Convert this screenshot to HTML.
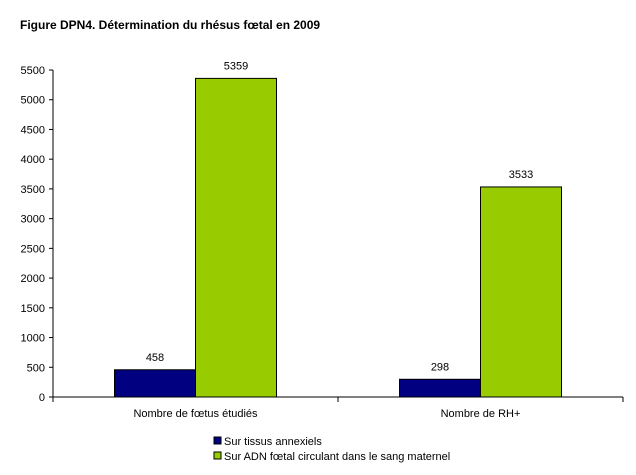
<!DOCTYPE html>
<html><head><meta charset="utf-8"><style>
body{margin:0;background:#fff;font-family:"Liberation Sans",Arial,sans-serif}
text{font-family:"Liberation Sans",Arial,sans-serif}
</style></head><body>
<svg width="636" height="470" xmlns="http://www.w3.org/2000/svg">
<text x="20" y="29" font-size="12" font-weight="bold">Figure DPN4. Détermination du rhésus fœtal en 2009</text>
<g id="axes"></g><g id="bars"></g>
<g>
<rect x="214" y="437" width="7" height="7" fill="#000080" stroke="#000"/>
<text x="224" y="445" font-size="11">Sur tissus annexiels</text>
<rect x="214" y="452" width="7" height="7" fill="#99cc00" stroke="#000"/>
<text x="224" y="460" font-size="11">Sur ADN fœtal circulant dans le sang maternel</text>
</g>
</svg>
<script>
const categories=["Nombre de fœtus étudiés","Nombre de RH+"];
const seriesTissus=[458,298];
const seriesADN=[5359,3533];
const yTicks=[0,500,1000,1500,2000,2500,3000,3500,4000,4500,5000,5500];
const NS="http://www.w3.org/2000/svg";
const x0=53,x1=623,y0=397,yTop=70,yMax=5500;
const y=v=>y0-(v/yMax)*(y0-yTop);
const catW=(x1-x0)/categories.length;
const bw=81;
function mk(t,a,p){const e=document.createElementNS(NS,t);for(const k in a)e.setAttribute(k,a[k]);p.appendChild(e);return e;}
const ax=document.getElementById('axes'),bg=document.getElementById('bars');
const yl=mk('line',{x1:x0,y1:yTop,x2:x0,y2:y0,stroke:'#000'},ax);


const xl=mk('line',{x1:x0,y1:y0,x2:x1,y2:y0,stroke:'#000'},ax);


yTicks.forEach(v=>{
 mk('line',{x1:x0-4,y1:y(v),x2:x0,y2:y(v),stroke:'#000'},ax);
 const t=mk('text',{x:x0-8,y:y(v)+4,'font-size':11,'text-anchor':'end'},ax);t.textContent=v;
 
 
});
for(let i=0;i<=categories.length;i++)mk('line',{x1:x0+i*catW,y1:y0,x2:x0+i*catW,y2:y0+5,stroke:'#000'},ax);
categories.forEach((c,i)=>{
 const cx=x0+catW*(i+0.5);
 const t=mk('text',{x:cx,y:y0+20,'font-size':11,'text-anchor':'middle'},ax);t.textContent=c;
 
 
 [[seriesTissus[i],'#000080',cx-bw,'bar-tissus'],[seriesADN[i],'#99cc00',cx,'bar-adn']].forEach(([v,col,bx,n])=>{
  const r=mk('rect',{x:bx,y:y(v),width:bw,height:y0-y(v),fill:col,stroke:'#000','stroke-width':1},bg);
  
  
  const l=mk('text',{x:bx+bw/2,y:y(v)-9,'font-size':11,'text-anchor':'middle'},bg);l.textContent=v;
  
  
 });
});
</script>
</body></html>
